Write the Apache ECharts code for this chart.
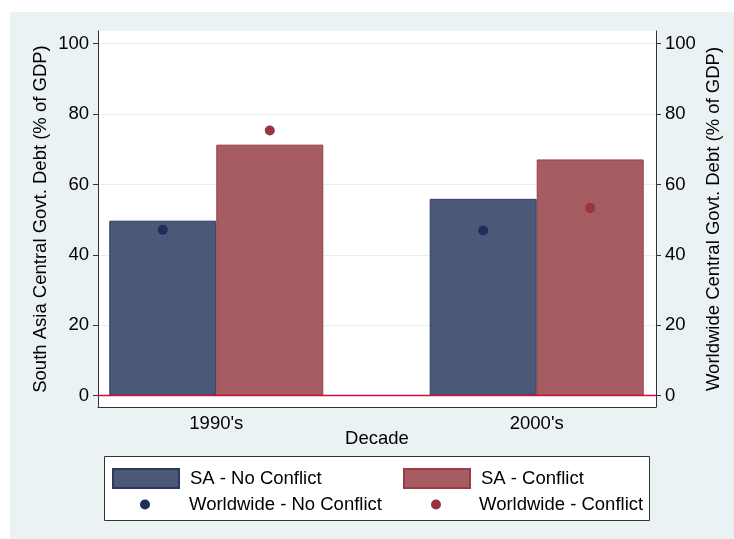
<!DOCTYPE html>
<html>
<head>
<meta charset="utf-8">
<script src="https://cdn.jsdelivr.net/npm/echarts@6/dist/echarts.min.js"></script>
<style>html,body{margin:0;padding:0;background:#fff}#c{width:734px;height:539px}</style>
</head>
<body>
<div id="c"></div>
<script>
// ---- data ----
const decades = ["1990's", "2000's"];
const saNoConflict = [49.7, 55.9];
const saConflict = [71.3, 67.1];
const worldNoConflict = [47.1, 46.9];
const worldConflict = [75.3, 53.3];
const yTicks = [0, 20, 40, 60, 80, 100];

const FONT = 'Liberation Sans, Arial, sans-serif';
const FS = 18.5;
const NAVY = '#4b5877', NAVY_B = '#2b3862', NAVY_DOT = '#1e2e5c';
const RED = '#a65d61', RED_B = '#9b3b47', RED_DOT = '#9a3340';
const BAR_PX = 107;
const UNIT_PX = 320.4;                 // pixel distance between category centers
const off = (BAR_PX / 2) / UNIT_PX;    // bar-center offset in axis units
const xs = decades.map((d, i) => i + 1);

const chart = echarts.init(document.getElementById('c'), null, {renderer: 'canvas'});
const yAxisCommon = {
  type: 'value', min: -3.21, max: 103.58,
  axisLine: {show: true, lineStyle: {color: '#333', width: 1}},
  axisTick: {show: true, length: 5, lineStyle: {color: '#333'}, customValues: yTicks},
  axisLabel: {color: '#000', fontSize: FS, fontFamily: FONT, margin: 9, customValues: yTicks},
  nameLocation: 'middle', nameMoveOverlap: false,
  nameTextStyle: {color: '#000', fontSize: FS, fontFamily: FONT}
};
const legendCommon = {orient: 'horizontal', padding: 0, itemGap: 0,
  textStyle: {color: '#000', fontSize: FS, fontFamily: FONT}};

chart.setOption({
  animation: false,
  backgroundColor: '#eaf2f3',
  graphic: [
    {type: 'rect', shape: {x: 0, y: 0, width: 734, height: 12}, style: {fill: '#fff'}, z: -5},
    {type: 'rect', shape: {x: 0, y: 0, width: 10, height: 539}, style: {fill: '#fff'}, z: -5},
    {type: 'rect', shape: {x: 104.5, y: 456.5, width: 545, height: 64}, style: {fill: '#fff', stroke: '#333', lineWidth: 1}, z: 1}
  ],
  grid: {left: 98, right: 78, top: 31, bottom: 132, show: true, backgroundColor: '#fff', borderWidth: 0},
  xAxis: {
    type: 'value', min: 0.6308, max: 2.3723,
    name: 'Decade', nameLocation: 'middle', nameGap: 22, nameMoveOverlap: false,
    nameTextStyle: {color: '#000', fontSize: FS, fontFamily: FONT},
    axisLine: {show: true, onZero: false, lineStyle: {color: '#333', width: 1}},
    axisTick: {show: false},
    splitLine: {show: false},
    axisLabel: {color: '#000', fontSize: FS, fontFamily: FONT, margin: 7, customValues: xs,
      formatter: v => decades[Math.round(v) - 1] || ''}
  },
  yAxis: [
    Object.assign({}, yAxisCommon, {position: 'left', nameGap: 48, name: 'South Asia Central Govt. Debt (% of GDP)',
      splitLine: {show: true, lineStyle: {color: '#e6eef1', width: 1}}}),
    Object.assign({}, yAxisCommon, {position: 'right', nameGap: 48, name: 'Worldwide Central Govt. Debt (% of GDP)',
      splitLine: {show: false}})
  ],
  legend: [
    Object.assign({}, legendCommon, {left: 112, top: 468, itemWidth: 66, itemHeight: 19, icon: 'rect',
      textStyle: Object.assign({}, legendCommon.textStyle, {padding: [0, 0, 0, 6]}), data: ['SA - No Conflict']}),
    Object.assign({}, legendCommon, {left: 403, top: 468, itemWidth: 66, itemHeight: 19, icon: 'rect',
      textStyle: Object.assign({}, legendCommon.textStyle, {padding: [0, 0, 0, 6]}), data: ['SA - Conflict']}),
    Object.assign({}, legendCommon, {left: 140, top: 495, itemWidth: 10, itemHeight: 10, icon: 'circle',
      textStyle: Object.assign({}, legendCommon.textStyle, {padding: [0, 0, 0, 34]}), data: ['Worldwide - No Conflict']}),
    Object.assign({}, legendCommon, {left: 431, top: 495, itemWidth: 10, itemHeight: 10, icon: 'circle',
      textStyle: Object.assign({}, legendCommon.textStyle, {padding: [0, 0, 0, 33]}), data: ['Worldwide - Conflict']})
  ],
  series: [
    {name: 'SA - No Conflict', type: 'bar', barWidth: BAR_PX, barGap: '0%',
      itemStyle: {color: NAVY, borderColor: NAVY_B, borderWidth: 1},
      data: xs.map((x, i) => [x, saNoConflict[i]])},
    {name: 'SA - Conflict', type: 'bar', barWidth: BAR_PX, barGap: '0%',
      itemStyle: {color: RED, borderColor: RED_B, borderWidth: 1},
      data: xs.map((x, i) => [x, saConflict[i]])},
    {name: 'Worldwide - No Conflict', type: 'scatter', yAxisIndex: 1, symbol: 'circle', symbolSize: 10,
      itemStyle: {color: NAVY_DOT, opacity: 1}, z: 5,
      data: xs.map((x, i) => [x - off, worldNoConflict[i]]),
      markLine: {silent: true, symbol: ['none', 'none'], label: {show: false}, animation: false, z: 4,
        lineStyle: {color: '#d0103a', width: 1.3, type: 'solid', opacity: 1}, data: [{yAxis: 0}]}},
    {name: 'Worldwide - Conflict', type: 'scatter', yAxisIndex: 1, symbol: 'circle', symbolSize: 10,
      itemStyle: {color: RED_DOT, opacity: 1}, z: 5,
      data: xs.map((x, i) => [x + off, worldConflict[i]])}
  ]
});
</script>
</body>
</html>
